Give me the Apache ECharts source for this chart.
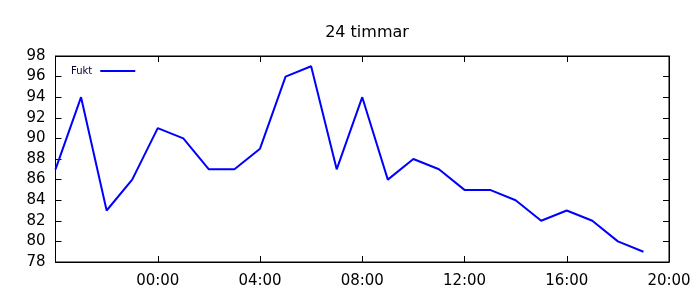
<!DOCTYPE html>
<html><head><meta charset="utf-8">
<script src="https://cdn.jsdelivr.net/npm/echarts@6/dist/echarts.min.js"></script>
<style>html,body{margin:0;padding:0;background:#fff}#c{width:700px;height:300px}</style>
</head><body><div id="c"></div>
<script>
const hours = [-4,-3,-2,-1,0,1,2,3,4,5,6,7,8,9,10,11,12,13,14,15,16,17,18,19];
const fukt  = [87,94,83,86,91,90,87,87,89,96,97,87,94,86,88,87,85,85,84,82,83,82,80,79];
const title = '24 timmar';
const seriesName = 'Fukt';

const font = 'DejaVu Sans';
const fmt = v => String(((v % 24) + 24) % 24).padStart(2,'0') + ':00';
const chart = echarts.init(document.getElementById('c'), null, {renderer:'canvas'});
const axisLine = {show:true, onZero:false, lineStyle:{color:'#000', width:1}};
const tick = {show:true, inside:true, length:6, lineStyle:{color:'#000', width:1}};
chart.setOption({
  animation:false,
  backgroundColor:'#fff',
  title:{text:title, left:362, textAlign:'center', top:20,
    textStyle:{fontFamily:font, fontSize:16, fontWeight:'normal', color:'#000'}},
  legend:{data:[seriesName], left:66, top:61, align:'right', icon:'rect', itemWidth:35, itemHeight:2, itemGap:0,
    textStyle:{fontFamily:font, fontSize:10, color:'#000033', padding:[0,3,0,0]}},
  grid:{left:55.5, right:31, top:56, bottom:38, show:true, borderColor:'#000', borderWidth:1, backgroundColor:'transparent'},
  xAxis:[
    {type:'value', min:-4, max:20, interval:4, position:'bottom',
     axisLine, axisTick:tick, splitLine:{show:false},
     axisLabel:{showMinLabel:false, formatter:fmt, margin:12, fontFamily:font, fontSize:15, color:'#000'}},
    {type:'value', show:true, gridIndex:0, min:-4, max:20, interval:4, position:'top',
     axisLine, axisTick:tick, splitLine:{show:false},
     axisLabel:{show:false}}
  ],
  yAxis:[
    {type:'value', min:78, max:98, interval:2, position:'left',
     axisLine, axisTick:tick, splitLine:{show:false},
     axisLabel:{margin:10, fontFamily:font, fontSize:15, color:'#000'}},
    {type:'value', show:true, gridIndex:0, min:78, max:98, interval:2, position:'right',
     axisLine, axisTick:tick, splitLine:{show:false},
     axisLabel:{show:false}}
  ],
  series:[{name:seriesName, type:'line', xAxisIndex:0, yAxisIndex:0, symbol:'none',
    lineStyle:{color:'#0000ff', width:2}, itemStyle:{color:'#0000ff'},
    data: hours.map((h,i)=>[h, fukt[i]])}]
});
</script></body></html>
